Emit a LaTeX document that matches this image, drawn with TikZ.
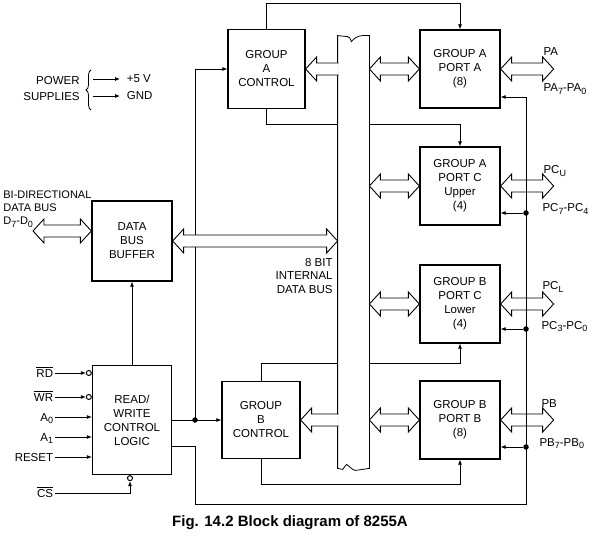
\documentclass[tikz,border=0pt]{standalone}
\usepackage{fontspec}
\setmainfont{Liberation Sans}
\usetikzlibrary{calc,positioning,arrows.meta,decorations.pathreplacing}

% lowered index as printed on the pin names
\newcommand{\subidx}[1]{\raisebox{-0.45ex}{\fontsize{9}{9}\selectfont #1}}

% wide double headed bus arrow between two points on one level
\newcommand{\busarrow}[2]{%
  \filldraw[widearrow] let \p1=(#1), \p2=(#2) in
    (\p1) -- (\x1+11pt,\y1+12pt) -- (\x1+11pt,\y1+6pt) -- (\x2-11pt,\y1+6pt)
    -- (\x2-11pt,\y1+12pt) -- (\x2,\y1) -- (\x2-11pt,\y1-12pt) -- (\x2-11pt,\y1-6pt)
    -- (\x1+11pt,\y1-6pt) -- (\x1+11pt,\y1-12pt) -- cycle;}
% wide arrow leaving the bus, tip at #1
\newcommand{\busfeed}[2]{%
  \filldraw[widearrow] let \p1=(#1), \p2=(#2) in
    (\x2+1pt,\y1+6pt) -- (\x1+11pt,\y1+6pt) -- (\x1+11pt,\y1+12pt) -- (\p1)
    -- (\x1+11pt,\y1-12pt) -- (\x1+11pt,\y1-6pt) -- (\x2+1pt,\y1-6pt);}

\begin{document}
\begin{tikzpicture}[
    x=1pt, y=-1pt,
    line width=0.8pt,
    box/.style={draw,line width=1.3pt,align=center,inner sep=0pt,
      minimum width=80pt,minimum height=78pt,font=\fontsize{11.5}{14}\selectfont},
    tag/.style={inner sep=1.5pt,text height=9pt,text depth=1pt,font=\fontsize{11.5}{14}\selectfont},
    sig/.style={-{Latex[length=5pt,width=4pt]}},
    widearrow/.style={fill=white,line width=0.9pt,line join=miter},
    bubble/.style={circle,draw,line width=1pt,inner sep=0pt,minimum size=5pt},
    dot/.style={circle,fill,inner sep=0pt,minimum size=5.5pt},
  ]

  \useasboundingbox (0,0) rectangle (594,537);

  % blocks

  \node (gac) at (266.5,69) [box,minimum width=77pt,minimum height=79pt] {GROUP\\A\\CONTROL};
  \node (gbc) at (261,420) [box,minimum width=78pt,minimum height=77pt] {GROUP\\B\\CONTROL};
  \node (dbb) at (132,241) [box,minimum height=80pt] {DATA\\BUS\\BUFFER};
  \node (rw) at (132,420) [box,minimum width=79pt,minimum height=109pt] {READ/\\WRITE\\CONTROL\\LOGIC};

  \node (pa) at (460,69) [box] {GROUP A\\PORT A\\(8)};
  \node (pcu) at (460,186) [box] {GROUP A\\PORT C\\Upper\\(4)};
  \node (pcl) at (460,304) [box] {GROUP B\\PORT C\\Lower\\(4)};
  \node (pb) at (460,420) [box] {GROUP B\\PORT B\\(8)};

  \node (bus) at (353.5,252) [minimum width=31pt,minimum height=432pt,inner sep=0pt] {};

  % power supplies

  \node (pwr) at (81,89) [anchor=east,align=right,inner sep=1pt,font=\fontsize{11.5}{16}\selectfont] {POWER\\SUPPLIES};
  \draw[decorate,decoration={brace,amplitude=5pt}] ($(pwr.east)+(10,21)$) -- ($(pwr.east)+(10,-19)$);
  \node (v5) at (125,79) [tag,anchor=west] {+5 V};
  \node (gnd) at (125,96) [tag,anchor=west] {GND};
  \coordinate (s5) at (93,79);
  \coordinate (sg) at (93,96);
  \draw[sig,shorten >=5pt] (s5) -- (v5.west);
  \draw[sig,shorten >=5pt] (sg) -- (gnd.west);

  % control inputs

  \node (rd) at (55,373) [tag,anchor=east] {$\overline{\mbox{RD}}$};
  \node (wr) at (55,397) [tag,anchor=east] {$\overline{\mbox{WR}}$};
  \node (a0) at (55,417) [tag,anchor=east] {A\subidx{0}};
  \node (a1) at (55,437) [tag,anchor=east] {A\subidx{1}};
  \node (rst) at (55,457) [tag,anchor=east] {RESET};
  \node (cs) at (55,493) [tag,anchor=east] {$\overline{\mbox{CS}}$};

  \node (brd) at (rw.west |- rd) [bubble,anchor=east] {};
  \node (bwr) at (rw.west |- wr) [bubble,anchor=east] {};
  \node (bcs) at ($(rw.south)+(-2,0)$) [bubble,anchor=north] {};

  \draw[sig] (rd) -- (brd);
  \draw[sig] (wr) -- (bwr);
  \draw[sig] (a0) -- (a0 -| rw.west);
  \draw[sig] (a1) -- (a1 -| rw.west);
  \draw[sig] (rst) -- (rst -| rw.west);
  \draw[sig] (cs) -| (bcs);

  % control lines

  \node (j1) at (195,420) [dot] {};
  \draw[sig] (rw.east) -- (gbc.west);
  \draw[sig] (j1.center) |- (gac.west);
  \draw[sig] (rw.north) -- (dbb.south);

  \draw[sig] (gac.north) -- ++(0,-25) -| (pa.north);
  \draw[sig] (gac.south) -- ++(0,15) -| (pcu.north);
  \draw[sig] (gbc.north) -- ++(0,-17) -| (pcl.south);
  \draw[sig] (gbc.south) -- ++(0,25) -| (pb.south);

  % internal data bus

  \filldraw[fill=white] (bus.north west) -- (bus.south west) -- ++(5,1)
    .. controls +(1.5,-3) .. ++(4,-5) .. controls +(3,2) and +(-3,0) .. ++(9,6)
    -- (bus.south east) -- (bus.north east) -- ++(-7,0)
    .. controls +(-4,0) and +(2,-3) .. ++(-11,6) .. controls +(-1,-3) and +(2,0) .. ++(-4,-5) -- cycle;

  \node (ibl) at (334,276) [anchor=east,align=right,inner sep=1pt,font=\fontsize{11.5}{13.5}\selectfont] {8 BIT\\INTERNAL\\DATA BUS};

  \busfeed{gac.east}{bus.west}
  \busfeed{gbc.east}{bus.west}
  \busarrow{dbb.east}{bus.west |- dbb.east}

  \busarrow{bus.east |- pa.west}{pa.west}
  \busarrow{bus.east |- pcu.west}{pcu.west}
  \busarrow{bus.east |- pcl.west}{pcl.west}
  \busarrow{bus.east |- pb.west}{pb.west}

  % external data bus

  \node (dlbl) at (2,209) [anchor=west,align=left,inner sep=1pt,font=\fontsize{11}{13}\selectfont] {BI-DIRECTIONAL\\DATA BUS\\D\subidx{7}-D\subidx{0}};
  \coordinate (dext) at (33,231);
  \busarrow{dext}{dbb.west |- dext}

  % ports

  \busarrow{pa.east}{$(pa.east)+(53,0)$}
  \busarrow{pcu.east}{$(pcu.east)+(53,0)$}
  \busarrow{pcl.east}{$(pcl.east)+(53,0)$}
  \busarrow{pb.east}{$(pb.east)+(53,0)$}

  \node (pal) at ($(pa.east)+(41,-17)$) [tag,anchor=west] {PA};
  \node (pab) at ($(pa.east)+(41,19)$) [tag,anchor=west] {PA\subidx{7}-PA\subidx{0}};
  \node (pcul) at ($(pcu.east)+(41,-16)$) [tag,anchor=west] {PC\subidx{U}};
  \node (pcub) at ($(pcu.east)+(40,22)$) [tag,anchor=west] {PC\subidx{7}-PC\subidx{4}};
  \node (pcll) at ($(pcl.east)+(40,-18)$) [tag,anchor=west] {PC\subidx{L}};
  \node (pclb) at ($(pcl.east)+(39,21)$) [tag,anchor=west] {PC\subidx{3}-PC\subidx{0}};
  \node (pbl) at ($(pb.east)+(39,-17)$) [tag,anchor=west] {PB};
  \node (pbb) at ($(pb.east)+(37,22)$) [tag,anchor=west] {PB\subidx{7}-PB\subidx{0}};

  % port control return line

  \coordinate (rwo) at ($(rw.east)+(0,26)$);
  \coordinate (lbot) at (195,504);
  \coordinate (rbot) at (526,504);
  \coordinate (rtop) at (526,97);
  \node (jr1) at (526,213) [dot] {};
  \node (jr2) at (526,329) [dot] {};
  \node (jr3) at (526,447) [dot] {};

  \draw (rwo) -| (lbot) -- (rbot) -- (rtop);
  \draw[sig] (rtop) -- (rtop -| pa.east);
  \draw[sig] (jr1) -- (jr1 -| pcu.east);
  \draw[sig] (jr2) -- (jr2 -| pcl.east);
  \draw[sig] (jr3) -- (jr3 -| pb.east);

  \node (cap) at (290,523) [font=\bfseries\fontsize{15}{18}\selectfont] {Fig. 14.2 Block diagram of 8255A};

\end{tikzpicture}
\end{document}
